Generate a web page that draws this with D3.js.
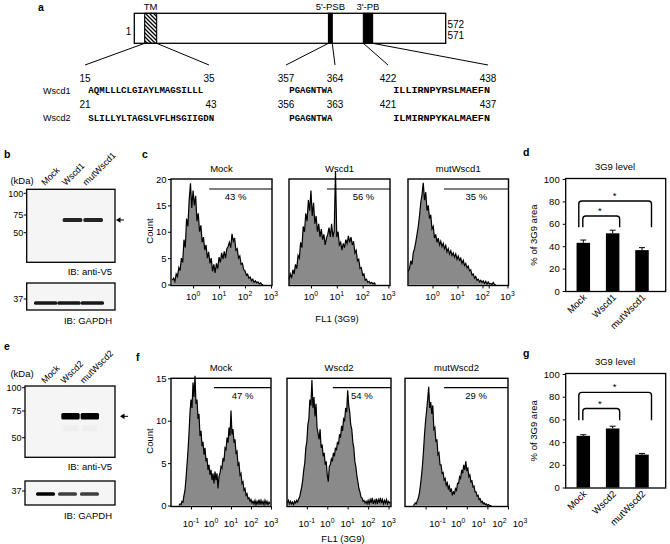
<!DOCTYPE html>
<html>
<head>
<meta charset="utf-8">
<script src="https://cdn.jsdelivr.net/npm/d3@7"></script>
<style>
body { margin: 0; background: #fff; }
svg text { font-family: "Liberation Sans", Arial, sans-serif; fill: #000; }
</style>
</head>
<body>
<svg id="fig" width="670" height="544"></svg>
<script>
// ---------- data ----------
var proteinLength = 572;
var domainNames = ["TM", "5'-PSB", "3'-PB"];
var domainStart = [20, 357, 421];
var domainEnd = [42, 364, 438];

var seqNames = ["Wscd1", "Wscd2"];
var tmSeqs = ["AQMLLLCLGIAYLMAGSILLL", "SLILLYLTAGSLVFLHSGIIGDN"];
var tmStart = [15, 21], tmEnd = [35, 43];
var psbSeqs = ["PGAGNTWA", "PGAGNTWA"];
var psbStart = [357, 356], psbEnd = [364, 363];
var pbSeqs = ["ILLIRNPYRSLMAEFN", "ILMIRNPYKALMAEFN"];
var pbStart = [422, 421], pbEnd = [438, 437];

var lanesB = ["Mock", "Wscd1", "mutWscd1"];
var v5B = [0, 0.85, 0.85];
var gapdhB = [0.9, 0.9, 0.9];
var lanesE = ["Mock", "Wscd2", "mutWscd2"];
var v5E = [0, 1, 1];
var gapdhE = [1, 0.75, 0.75];
var markersV5 = [100, 75, 50];
var markerGapdh = [37];

// histograms: counts every 0.05 decade, from histStart
var histStep = 0.05;
var histTitlesC = ["Mock", "Wscd1", "mutWscd1"];
var histStartC = [-0.8, -0.85, -0.97];
var histC0 = [0.8,1.2,0.6,2.0,1.5,3.2,2.6,5.0,4.2,8.5,7.0,12.5,11.0,16.0,19.2,14.5,17.8,15.0,16.8,12.0,
  13.5,10.0,11.2,8.0,9.0,6.5,7.5,5.0,6.2,4.0,5.0,2.5,3.8,2.2,4.0,3.0,5.2,4.2,6.0,4.8,
  6.3,5.0,6.8,7.2,8.0,7.0,9.6,8.2,8.8,6.5,6.8,5.0,5.4,3.8,4.0,2.8,2.6,1.8,2.0,1.2,
  1.4,0.7,1.0,0.4,0.7,0.3,0.5,0.1,0.3,0,0];
var histC1 = [1.0,2.0,1.2,2.8,2.0,3.8,3.0,5.5,5.0,8.0,7.0,11.0,10.0,13.5,12.0,16.0,14.0,17.8,13.0,15.5,
  11.5,13.0,10.0,11.5,9.0,10.5,8.5,9.5,7.5,8.8,9.5,10.8,9.0,11.5,9.0,10.2,21.5,9.0,10.0,7.5,
  8.0,6.5,7.8,7.0,8.5,7.8,9.2,8.0,9.0,7.5,8.2,6.0,6.5,4.5,4.8,3.0,3.2,1.8,2.0,0.8,
  1.0,0.4,0.6,0.2,0.4,0.1,0.3,0];
var histC2 = [2.5,3.0,4.5,3.8,6.0,6.8,8.0,9.5,11.0,13.0,15.5,17.0,19.3,16.0,17.5,14.0,15.0,12.5,13.2,10.5,
  11.0,8.8,9.5,8.0,8.8,7.5,8.2,7.2,7.8,6.8,7.4,6.2,6.8,5.8,6.4,5.5,6.0,5.2,5.8,4.8,
  5.4,4.6,5.0,4.0,4.6,3.6,4.0,3.2,3.5,2.6,2.8,1.8,2.0,1.2,1.5,0.8,1.0,0.5,0.8,0.4,
  0.7,0.2,0.6,0.1,0.5,0.1,0.2,0,0.4,0,0];
var pctC = ["43 %", "56 %", "35 %"];
var gateC = [0.62, 0.62, 0.46];

var histTitlesF = ["Mock", "Wscd2", "mutWscd2"];
var histStartF = [-1.6, -1.95, -1.6];
var histF0 = [0,0.2,0.1,0.5,0.4,1.2,1.8,3.2,4.8,6.5,8.5,11.0,12.5,11.5,14.5,12.8,15.3,12.0,12.5,10.2,
  10.8,8.2,8.8,7.0,7.5,6.0,6.8,5.2,5.6,4.2,4.8,3.6,4.2,3.0,3.8,2.6,4.0,3.0,3.8,2.0,
  3.4,3.8,4.6,4.4,5.6,5.2,6.8,6.6,8.0,7.4,9.2,8.2,11.2,8.4,9.0,7.4,7.8,6.2,6.4,4.8,
  5.0,3.6,3.8,2.6,2.8,1.8,2.0,1.2,1.4,0.8,0.9,0.5,0.7,0.3,0.5,0.2,0.6,0.1,0.5,0.2,
  0.7,0.1,0.6,0.2,0.5,0.1,0.6,0.2,0.5,0.1,0.4,0.2];
var histF1 = [0.3,0.6,0.2,0.5,0.2,0.4,0.1,0.5,0.3,0.6,0.4,0.8,1.0,1.6,2.2,3.0,4.2,5.0,6.8,7.5,
  9.5,10.2,12.5,11.8,14.8,11.5,12.8,10.5,12.0,9.2,8.5,7.8,9.0,6.8,7.2,5.8,6.2,4.8,5.2,3.6,
  2.8,4.6,4.8,5.5,5.2,6.2,5.8,6.8,6.5,7.5,7.2,8.4,8.0,9.4,8.8,10.2,10.0,11.5,11.0,13.6,
  11.8,11.0,9.5,9.0,7.5,6.8,5.2,4.6,3.5,2.8,2.0,1.6,1.0,0.9,0.5,0.6,0.3,0.5,0.2,0.6,
  0.2,0.7,0.3,0.9,0.2,0.6,0.3,0.8,0.2,0.7,0.4,0.9,0.3,0.7,0.2,0.6,0.3,0.7,0.2,0.5,
  0.3,0.4];
var histF2 = [0,0.1,0.3,0.2,0.6,0.9,1.5,2.4,3.5,4.8,6.5,8.5,10.0,11.2,12.5,14.0,11.5,12.2,10.8,11.8,
  9.0,9.2,7.5,7.8,6.0,6.2,4.8,4.8,3.8,3.9,3.0,3.2,2.4,2.7,2.0,2.3,1.6,2.0,1.2,1.6,
  1.4,2.0,1.8,2.6,2.6,3.4,3.2,4.2,3.8,4.8,4.2,5.2,4.2,4.4,3.4,3.6,2.8,2.9,2.2,2.3,
  1.6,1.6,1.1,1.2,0.7,0.8,0.4,0.5,0.2,0.3,0.1,0.2,0,0.1,0,0,0];
var pctF = ["47 %", "54 %", "29 %"];
var gateF = [0.15, 0.27, -0.1];

var barCatsD = ["Mock", "Wscd1", "mutWscd1"];
var barMeanD = [43, 51.5, 36.5];
var barErrD = [2.5, 2.8, 2.2];
var barCatsG = ["Mock", "Wscd2", "mutWscd2"];
var barMeanG = [45.5, 52, 29];
var barErrG = [1, 2, 1];
var pctTicks = [0, 20, 40, 60, 80, 100];

// ---------- drawing ----------
var svg = d3.select("#fig");
svg.append("rect").attr("width", 670).attr("height", 544).attr("fill", "#fff");

var defs = svg.append("defs");
defs.append("pattern").attr("id", "hatch").attr("patternUnits", "userSpaceOnUse")
    .attr("width", 4).attr("height", 4)
  .append("path").attr("d", "M-1,-1L5,5M-1,3L1,5M3,-1L5,1")
    .attr("stroke", "#000").attr("stroke-width", 1.3);
defs.append("filter").attr("id", "blur").attr("x", "-20%").attr("y", "-100%")
    .attr("width", "140%").attr("height", "300%")
  .append("feGaussianBlur").attr("stdDeviation", 0.7);

function letter(t, x, y) {
    svg.append("text").attr("x", x).attr("y", y).attr("font-size", 10.5)
        .attr("font-weight", "bold").text(t);
}
letter("a", 38, 11);
letter("b", 4, 158);
letter("c", 142, 158);
letter("d", 523, 156);
letter("e", 4, 350);
letter("f", 136, 361);
letter("g", 523, 357);

// ----- panel a -----
var px = d3.scaleLinear().domain([1, proteinLength]).range([134.3, 445.7]);
var ga = svg.append("g");
ga.append("rect").attr("x", px(1)).attr("y", 13.3).attr("width", px(proteinLength) - px(1))
    .attr("height", 30).attr("fill", "#fff").attr("stroke", "#000").attr("stroke-width", 1.3);
domainNames.forEach(function(name, i) {
    ga.append("rect").attr("x", px(domainStart[i])).attr("y", 13.3)
        .attr("width", px(domainEnd[i]) - px(domainStart[i])).attr("height", 30)
        .attr("fill", i == 0 ? "url(#hatch)" : "#000")
        .attr("stroke", "#000").attr("stroke-width", 1.1);
    ga.append("text").attr("x", (px(domainStart[i]) + px(domainEnd[i])) / 2).attr("y", 10)
        .attr("text-anchor", "middle").attr("font-size", 9.5).text(name);
});
ga.append("text").attr("x", 128.5).attr("y", 35).attr("text-anchor", "middle")
    .attr("font-size", 10).text("1");
ga.append("text").attr("x", 447.5).attr("y", 28).attr("font-size", 10).text("572");
ga.append("text").attr("x", 447.5).attr("y", 38.5).attr("font-size", 10).text("571");

// sequence columns
var cols = [
    {seqs: tmSeqs, s: tmStart, e: tmEnd, dom: 0, x: 88.3, cw: 5.47, nx0: 85, nx1: 209},
    {seqs: psbSeqs, s: psbStart, e: psbEnd, dom: 1, x: 289.3, cw: 5.38, nx0: 286, nx1: 335},
    {seqs: pbSeqs, s: pbStart, e: pbEnd, dom: 2, x: 393.3, cw: 6.04, nx0: 388, nx1: 488}
];
var rowNumY = [81.5, 108], rowSeqY = [92.5, 121];
cols.forEach(function(c) {
    ga.append("line").attr("x1", px(domainStart[c.dom])).attr("y1", 43.3)
        .attr("x2", c.nx0).attr("y2", 65).attr("stroke", "#000").attr("stroke-width", 1);
    ga.append("line").attr("x1", px(domainEnd[c.dom])).attr("y1", 43.3)
        .attr("x2", c.nx1).attr("y2", 65).attr("stroke", "#000").attr("stroke-width", 1);
    seqNames.forEach(function(n, r) {
        ga.append("text").attr("x", c.nx0).attr("y", rowNumY[r]).attr("text-anchor", "middle")
            .attr("font-size", 10).text(c.s[r]);
        ga.append("text").attr("x", c.nx1 + (c.dom == 0 && r == 1 ? 2 : 0)).attr("y", rowNumY[r])
            .attr("text-anchor", "middle").attr("font-size", 10).text(c.e[r]);
        ga.append("text").attr("x", c.x).attr("y", rowSeqY[r])
            .style("font-family", "'Liberation Mono', 'DejaVu Sans Mono', monospace")
            .attr("font-size", 9.5).attr("font-weight", "bold")
            .attr("textLength", c.seqs[r].length * c.cw).attr("lengthAdjust", "spacingAndGlyphs")
            .text(c.seqs[r]);
    });
});
seqNames.forEach(function(n, r) {
    ga.append("text").attr("x", 43).attr("y", rowSeqY[r] + (r == 0 ? 1.5 : 0))
        .attr("font-size", 9).text(n);
});

// ----- blots -----
function blotPanel(o) {
    var g = svg.append("g");
    var lane = d3.scaleBand().domain(o.lanes).range(o.laneRange).padding(o.pad);
    var kda = d3.scaleLinear().domain([50, 75, 100]).range(o.kdaRange);

    o.lanes.forEach(function(l) {
        g.append("text").attr("transform", "translate(" + (lane(l) + 3) + "," + o.labelY + ") rotate(-45)")
            .attr("font-size", 9).text(l);
    });
    g.append("text").attr("x", 22).attr("y", o.kdaY).attr("text-anchor", "middle")
        .attr("font-size", 9.5).text("(kDa)");

    g.append("rect").attr("x", o.fx0).attr("y", o.fy0).attr("width", o.fx1 - o.fx0)
        .attr("height", o.fy1 - o.fy0).attr("fill", "#f5f5f5").attr("stroke", "#000").attr("stroke-width", 1.3);
    markersV5.forEach(function(m) {
        g.append("text").attr("x", o.fx0 - 3.5).attr("y", kda(m) + 3.3).attr("text-anchor", "end")
            .attr("font-size", 9).text(m);
        g.append("line").attr("x1", o.fx0 - 3).attr("x2", o.fx0).attr("y1", kda(m)).attr("y2", kda(m))
            .attr("stroke", "#000").attr("stroke-width", 1);
    });
    o.v5.forEach(function(v, i) {
        if (!v) return;
        g.append("rect").attr("x", lane(o.lanes[i])).attr("y", kda(o.bandKda) - o.bandH / 2)
            .attr("width", lane.bandwidth()).attr("height", o.bandH).attr("rx", 1.5)
            .attr("fill", "#000").attr("opacity", v).attr("filter", "url(#blur)");
        if (o.smear) {
            g.append("rect").attr("x", lane(o.lanes[i]) + 2).attr("y", kda(o.bandKda) + 9)
                .attr("width", lane.bandwidth() - 4).attr("height", 6)
                .attr("fill", "#000").attr("opacity", 0.025).attr("filter", "url(#blur)");
        }
    });
    var ay = kda(o.bandKda);
    g.append("path").attr("d", "M" + o.arrowX + "," + ay + "l4.5,-2.8v5.6z").attr("fill", "#000");
    g.append("line").attr("x1", o.arrowX + 4).attr("x2", o.arrowX + 8).attr("y1", ay).attr("y2", ay)
        .attr("stroke", "#000").attr("stroke-width", 1);
    g.append("text").attr("x", o.fx1 - 3).attr("y", o.fy1 + 12.5).attr("text-anchor", "end")
        .attr("font-size", 9.5).text("IB: anti-V5");

    g.append("rect").attr("x", o.fx0).attr("y", o.gy0).attr("width", o.fx1 - o.fx0)
        .attr("height", o.gy1 - o.gy0).attr("fill", "#f5f5f5").attr("stroke", "#000").attr("stroke-width", 1.3);
    markerGapdh.forEach(function(m) {
        g.append("text").attr("x", o.fx0 - 3.5).attr("y", o.g37 + 3.3).attr("text-anchor", "end")
            .attr("font-size", 9).text(m);
        g.append("line").attr("x1", o.fx0 - 3).attr("x2", o.fx0).attr("y1", o.g37).attr("y2", o.g37)
            .attr("stroke", "#000").attr("stroke-width", 1);
    });
    var glane = d3.scaleBand().domain(o.lanes).range(o.gLaneRange).padding(o.gPad);
    o.gapdh.forEach(function(v, i) {
        g.append("rect").attr("x", glane(o.lanes[i])).attr("y", o.g37 + o.gOff - o.gH / 2)
            .attr("width", glane.bandwidth()).attr("height", o.gH).attr("rx", 1.5)
            .attr("fill", "#000").attr("opacity", v).attr("filter", "url(#blur)");
    });
    g.append("text").attr("x", o.fx1 - 3).attr("y", o.gy1 + 13.5).attr("text-anchor", "end")
        .attr("font-size", 9.5).text("IB: GAPDH");
}

blotPanel({lanes: lanesB, v5: v5B, gapdh: gapdhB, laneRange: [41, 104], pad: 0.05,
    kdaRange: [232.7, 215, 193.3], labelY: 186, kdaY: 184, fx0: 26.7, fx1: 115, fy0: 189.3, fy1: 262.3,
    bandKda: 68, bandH: 4, arrowX: 116, gy0: 283, gy1: 310, g37: 299, gOff: 4, gH: 3.5,
    gLaneRange: [34, 104], gPad: 0, smear: false});
blotPanel({lanes: lanesE, v5: v5E, gapdh: gapdhE, laneRange: [41, 100], pad: 0.05,
    kdaRange: [437.7, 411, 387.7], labelY: 384, kdaY: 377, fx0: 25, fx1: 115, fy0: 386, fy1: 457.3,
    bandKda: 70, bandH: 6.5, arrowX: 120, gy0: 481, gy1: 505, g37: 491, gOff: 3, gH: 3.5,
    gLaneRange: [33, 102], gPad: 0.14, smear: true});

// ----- histograms -----
function powLabel(g, x, y, e) {
    var t = g.append("text").attr("x", x).attr("y", y).attr("text-anchor", "middle").attr("font-size", 9.5);
    t.append("tspan").text("10");
    t.append("tspan").attr("dy", -3.8).attr("font-size", 6.8).text(e);
}

function histPanel(o) {
    var g = svg.append("g");
    var x = d3.scaleLinear().domain(o.xd).range([o.x0, o.x1]);
    var y = d3.scaleLinear().domain([0, o.ymax]).range([o.y0, o.y1]);
    var pts = o.data.map(function(v, i) { return [o.start + i * histStep, v]; });

    g.append("path").datum(pts)
        .attr("d", d3.area().x(function(d) { return x(d[0]); }).y0(y(0)).y1(function(d) { return y(d[1]); }))
        .attr("fill", "#8a8a8a");
    g.append("path").datum(pts)
        .attr("d", d3.line().x(function(d) { return x(d[0]); }).y(function(d) { return y(d[1]); }))
        .attr("fill", "none").attr("stroke", "#000").attr("stroke-width", 1.2)
        .attr("stroke-linejoin", "miter");

    g.append("rect").attr("x", o.x0).attr("y", y(o.ymax)).attr("width", o.x1 - o.x0)
        .attr("height", y(0) - y(o.ymax) + 1).attr("fill", "none")
        .attr("stroke", "#000").attr("stroke-width", 1.4);

    var xa = g.append("g").attr("transform", "translate(0," + (y(0) + 1) + ")")
        .call(d3.axisBottom(x).tickValues(o.xticks).tickSize(3).tickFormat(""));
    xa.select(".domain").remove();
    o.xlabels.forEach(function(t) {
        powLabel(g, x(t) + (o.labelDx || 0), o.labelY, t);
    });

    if (o.yaxis) {
        var ya = g.append("g").attr("transform", "translate(" + o.x0 + ",0)")
            .call(d3.axisLeft(y).tickValues(o.yticks).tickSize(3).tickPadding(1.5));
        ya.select(".domain").remove();
        ya.selectAll("text").attr("font-size", 9.5).attr("font-family", "Liberation Sans, Arial, sans-serif");
    }

    g.append("text").attr("x", (o.x0 + o.x1) / 2).attr("y", y(o.ymax) - 7)
        .attr("text-anchor", "middle").attr("font-size", 9.5).text(o.title);

    var gy = y(o.gateLevel);
    g.append("line").attr("x1", x(o.gate)).attr("x2", o.x1).attr("y1", gy).attr("y2", gy)
        .attr("stroke", "#000").attr("stroke-width", 1.1);
    g.append("text").attr("x", (x(o.gate) + o.x1) / 2 + (o.pctDx || 0)).attr("y", gy + 11)
        .attr("text-anchor", "middle").attr("font-size", 9.5).text(o.pct);
}

var hc = [
    {x0: 171, x1: 272, xd: [-0.85, 3.04], xticks: [0, 1, 2, 3], yaxis: true},
    {x0: 289, x1: 390, xd: [-0.85, 3.06], xticks: [0, 1, 2, 3], pctDx: 5},
    {x0: 408, x1: 508.5, xd: [-0.98, 3.04], xticks: [0, 1, 2, 2.25, 3]}
];
[histC0, histC1, histC2].forEach(function(d, i) {
    var o = hc[i];
    o.data = d; o.start = histStartC[i]; o.title = histTitlesC[i];
    o.ymax = 20; o.y0 = 284.5; o.y1 = 179; o.yticks = [0, 5, 10, 15, 20];
    o.xlabels = [0, 1, 2, 3]; o.labelY = 300;
    o.gate = gateC[i]; o.gateLevel = 18.1; o.pct = pctC[i];
    if (i == 0) o.pctDx = -5;
    histPanel(o);
});
var hf = [
    {x0: 171, x1: 271, xd: [-2, 3], yaxis: true},
    {x0: 287, x1: 391, xd: [-1.97, 3.12]},
    {x0: 405, x1: 508, xd: [-2, 3], labelDx: 12}
];
[histF0, histF1, histF2].forEach(function(d, i) {
    var o = hf[i];
    o.data = d; o.start = histStartF[i]; o.title = histTitlesF[i];
    o.ymax = 15; o.y0 = 505.5; o.y1 = 378.3; o.yticks = [0, 5, 10, 15];
    o.xticks = [-1, 0, 1, 2, 3]; o.xlabels = [-1, 0, 1, 2, 3]; o.labelY = 526.5;
    o.gate = gateF[i]; o.gateLevel = 13.9; o.pct = pctF[i];
    histPanel(o);
});

svg.append("text").attr("transform", "translate(153,231) rotate(-90)").attr("text-anchor", "middle")
    .attr("font-size", 9.5).text("Count");
svg.append("text").attr("transform", "translate(153,441) rotate(-90)").attr("text-anchor", "middle")
    .attr("font-size", 9.5).text("Count");
svg.append("text").attr("x", 337).attr("y", 321.5).attr("text-anchor", "middle")
    .attr("font-size", 9.5).text("FL1 (3G9)");
svg.append("text").attr("x", 343).attr("y", 541.5).attr("text-anchor", "middle")
    .attr("font-size", 9.5).text("FL1 (3G9)");

// ----- bar charts -----
function bracket(g, xl, xr, yTop, yBot) {
    var r = 3;
    g.append("path")
        .attr("d", "M" + xl + "," + yBot + "V" + (yTop + r) + "Q" + xl + "," + yTop + " " + (xl + r) + "," + yTop +
            "H" + (xr - r) + "Q" + xr + "," + yTop + " " + xr + "," + (yTop + r) + "V" + yBot)
        .attr("fill", "none").attr("stroke", "#000").attr("stroke-width", 1.4);
}

function barPanel(o) {
    var g = svg.append("g");
    var x = d3.scalePoint().domain(o.cats).range([583.3, 642]);
    var y = d3.scaleLinear().domain([0, 100]).range([o.y0, o.y1]);
    var bw = 13.5;

    g.append("rect").attr("x", 565.7).attr("y", y(100) - 0.5).attr("width", 100)
        .attr("height", y(0) - y(100) + 1).attr("fill", "none").attr("stroke", "#000").attr("stroke-width", 1.3);

    o.cats.forEach(function(c, i) {
        var cx = x(c);
        g.append("rect").attr("x", cx - bw / 2).attr("y", y(o.mean[i])).attr("width", bw)
            .attr("height", y(0) - y(o.mean[i])).attr("fill", "#000");
        var top = y(o.mean[i] + o.err[i]);
        g.append("line").attr("x1", cx).attr("x2", cx).attr("y1", y(o.mean[i])).attr("y2", top)
            .attr("stroke", "#000").attr("stroke-width", 1);
        g.append("line").attr("x1", cx - 3).attr("x2", cx + 3).attr("y1", top).attr("y2", top)
            .attr("stroke", "#000").attr("stroke-width", 1);
        g.append("text").attr("transform", "translate(" + (cx + 4) + "," + (y(0) + 7) + ") rotate(-45)")
            .attr("text-anchor", "end").attr("font-size", 9.5).text(c);
    });

    var ya = g.append("g").attr("transform", "translate(565.7,0)")
        .call(d3.axisLeft(y).tickValues(pctTicks).tickSize(3).tickPadding(3));
    ya.select(".domain").remove();
    ya.selectAll("text").attr("font-size", 9.5).attr("font-family", "Liberation Sans, Arial, sans-serif");

    var xs = o.cats.map(function(c) { return x(c); });
    bracket(g, xs[0] - 4.5, xs[2] + 9.5, y(o.outer), y(o.legs));
    bracket(g, xs[0] - 0.5, xs[1] + 7, y(o.inner), y(o.legs));
    g.append("text").attr("x", (xs[0] + xs[2]) / 2 + 2).attr("y", y(o.outer) - 2)
        .attr("text-anchor", "middle").attr("font-size", 9.5).text("*");
    g.append("text").attr("x", (xs[0] + xs[1]) / 2 + 2).attr("y", y(o.inner) - 2)
        .attr("text-anchor", "middle").attr("font-size", 9.5).text("*");

    g.append("text").attr("x", 615).attr("y", y(100) - 9).attr("text-anchor", "middle")
        .attr("font-size", 9.5).text("3G9 level");
    g.append("text").attr("transform", "translate(537," + ((y(0) + y(100)) / 2) + ") rotate(-90)")
        .attr("text-anchor", "middle").attr("font-size", 9.5).text("% of 3G9 area");
}

barPanel({cats: barCatsD, mean: barMeanD, err: barErrD, y0: 291, y1: 179, outer: 80.4, inner: 67, legs: 57});
barPanel({cats: barCatsG, mean: barMeanG, err: barErrG, y0: 487.5, y1: 374, outer: 83.8, inner: 69.6, legs: 59.3});
</script>
</body>
</html>
